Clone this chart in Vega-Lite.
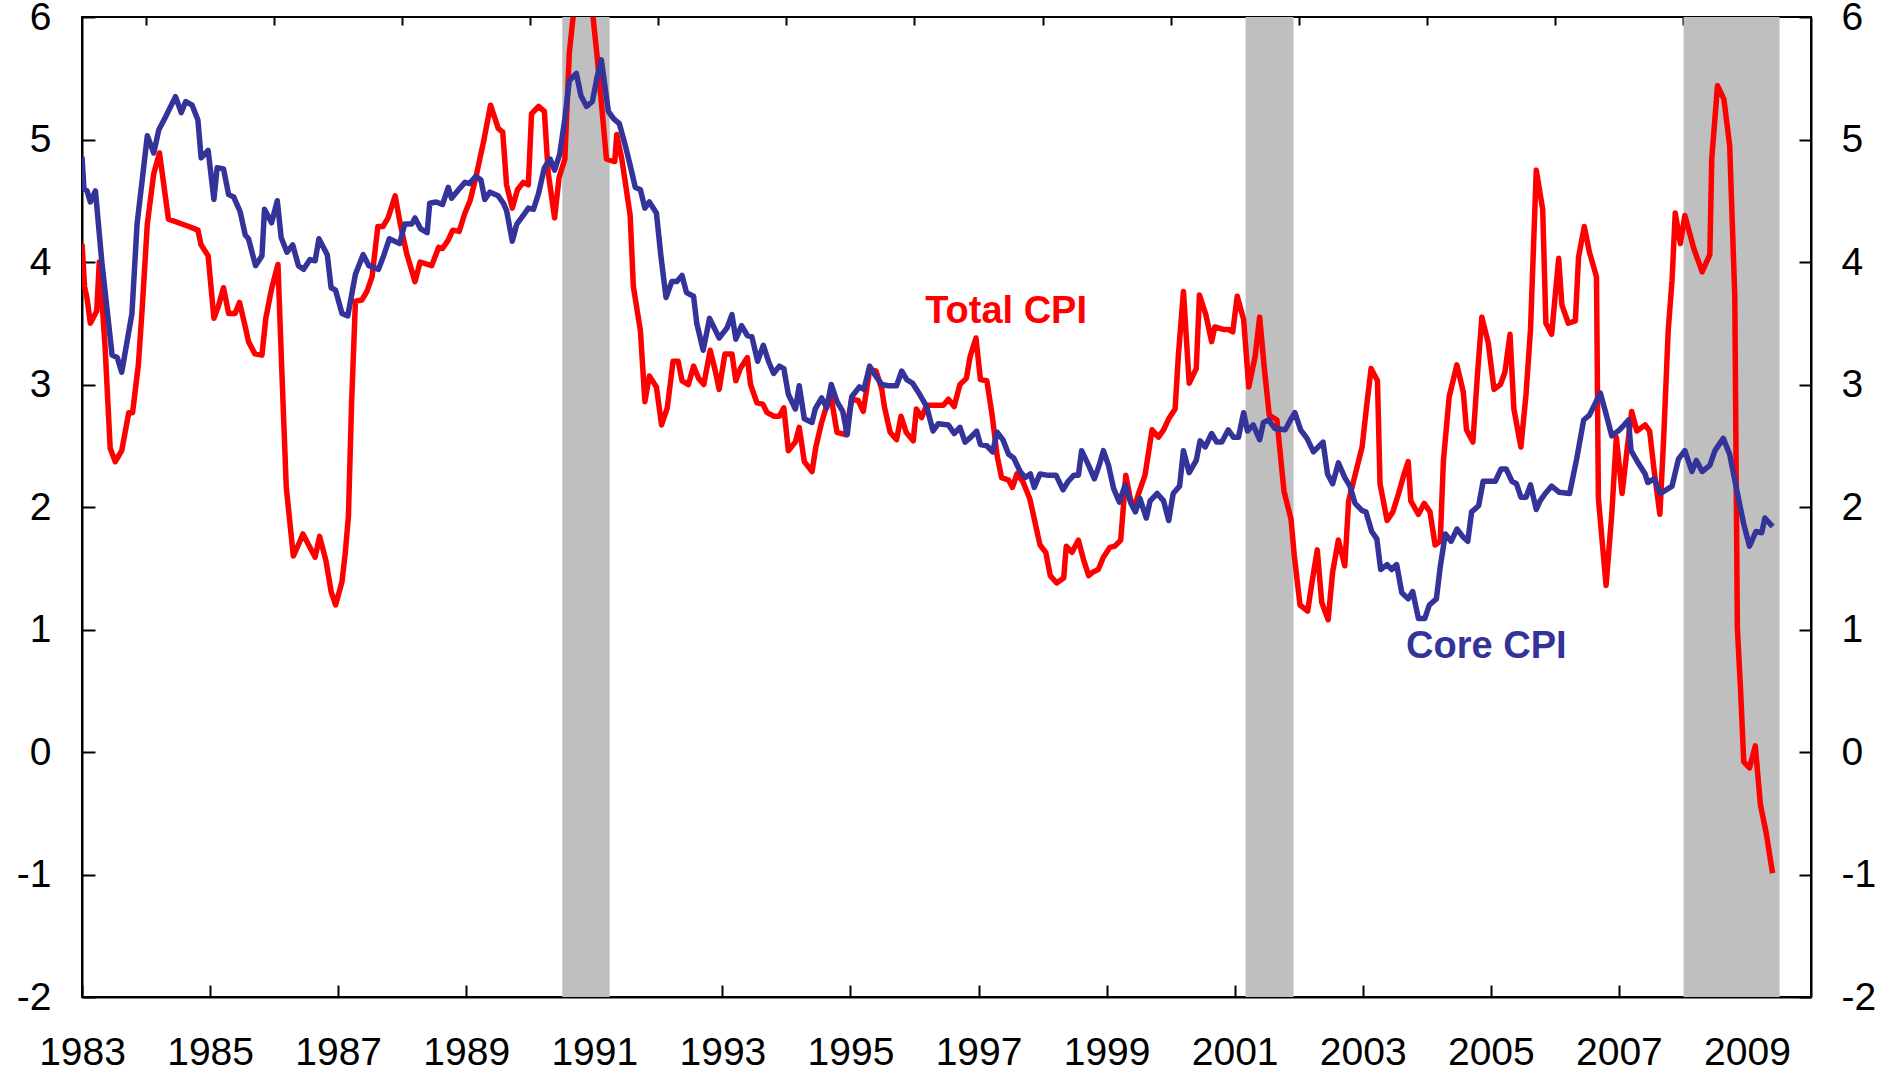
{
  "$schema": "https://vega.github.io/schema/vega-lite/v6.json",
  "width": 1729,
  "height": 980,
  "autosize": {"type": "none"},
  "padding": {"left": 82, "top": 17, "right": 74, "bottom": 76},
  "background": "white",
  "config": {
    "font": "Liberation Sans",
    "view": {"stroke": "black", "strokeWidth": 2},
    "axis": {"grid": false, "title": null, "labelFont": "Liberation Sans", "labelFontSize": 39, "labelColor": "black", "domainColor": "black", "domainWidth": 2, "tickColor": "black", "tickWidth": 2, "labelFlush": false, "labelOverlap": false}
  },
  "datasets": {
    "recessions": [
      {"start": 1990.5, "end": 1991.24},
      {"start": 2001.17, "end": 2001.92},
      {"start": 2008.01, "end": 2009.51}
    ],
    "total": [
      {"t":1983.00,"v":4.15},{"t":1983.04,"v":3.80},{"t":1983.08,"v":3.70},{"t":1983.13,"v":3.50},{"t":1983.23,"v":3.60},{"t":1983.27,"v":4.00},{"t":1983.36,"v":3.31},{"t":1983.44,"v":2.48},{"t":1983.52,"v":2.37},{"t":1983.62,"v":2.46},{"t":1983.73,"v":2.77},{"t":1983.79,"v":2.77},{"t":1983.88,"v":3.16},{"t":1983.94,"v":3.62},
      {"t":1984.02,"v":4.31},{"t":1984.12,"v":4.72},{"t":1984.21,"v":4.89},{"t":1984.35,"v":4.35},{"t":1984.56,"v":4.31},{"t":1984.67,"v":4.29},{"t":1984.81,"v":4.26},{"t":1984.86,"v":4.14},{"t":1984.97,"v":4.05},
      {"t":1985.06,"v":3.54},{"t":1985.13,"v":3.64},{"t":1985.21,"v":3.79},{"t":1985.29,"v":3.58},{"t":1985.39,"v":3.58},{"t":1985.46,"v":3.67},{"t":1985.55,"v":3.47},{"t":1985.60,"v":3.35},{"t":1985.70,"v":3.25},{"t":1985.81,"v":3.24},{"t":1985.87,"v":3.54},{"t":1985.96,"v":3.78},
      {"t":1986.06,"v":3.98},{"t":1986.12,"v":3.12},{"t":1986.19,"v":2.16},{"t":1986.30,"v":1.60},{"t":1986.37,"v":1.68},{"t":1986.45,"v":1.78},{"t":1986.54,"v":1.69},{"t":1986.64,"v":1.59},{"t":1986.71,"v":1.76},{"t":1986.81,"v":1.56},{"t":1986.89,"v":1.31},{"t":1986.96,"v":1.20},
      {"t":1987.06,"v":1.39},{"t":1987.11,"v":1.62},{"t":1987.16,"v":1.92},{"t":1987.21,"v":2.85},{"t":1987.27,"v":3.68},{"t":1987.37,"v":3.69},{"t":1987.45,"v":3.76},{"t":1987.53,"v":3.88},{"t":1987.62,"v":4.29},{"t":1987.70,"v":4.29},{"t":1987.78,"v":4.36},{"t":1987.89,"v":4.54},{"t":1987.97,"v":4.31},
      {"t":1988.07,"v":4.07},{"t":1988.20,"v":3.84},{"t":1988.28,"v":4.00},{"t":1988.46,"v":3.97},{"t":1988.57,"v":4.12},{"t":1988.63,"v":4.11},{"t":1988.72,"v":4.18},{"t":1988.79,"v":4.26},{"t":1988.89,"v":4.25},{"t":1988.98,"v":4.40},
      {"t":1989.06,"v":4.50},{"t":1989.15,"v":4.69},{"t":1989.27,"v":4.98},{"t":1989.38,"v":5.28},{"t":1989.50,"v":5.09},{"t":1989.57,"v":5.06},{"t":1989.63,"v":4.63},{"t":1989.72,"v":4.44},{"t":1989.80,"v":4.59},{"t":1989.89,"v":4.65},{"t":1989.97,"v":4.63},
      {"t":1990.02,"v":5.21},{"t":1990.13,"v":5.27},{"t":1990.22,"v":5.23},{"t":1990.28,"v":4.73},{"t":1990.38,"v":4.36},{"t":1990.45,"v":4.69},{"t":1990.54,"v":4.84},{"t":1990.61,"v":5.71},{"t":1990.71,"v":6.2},{"t":1990.79,"v":6.3},{"t":1990.88,"v":6.3},{"t":1990.96,"v":6.1},
      {"t":1991.04,"v":5.7},{"t":1991.09,"v":5.42},{"t":1991.19,"v":4.84},{"t":1991.32,"v":4.82},{"t":1991.35,"v":5.04},{"t":1991.43,"v":4.84},{"t":1991.56,"v":4.38},{"t":1991.61,"v":3.80},{"t":1991.72,"v":3.44},{"t":1991.79,"v":2.86},{"t":1991.86,"v":3.07},{"t":1991.97,"v":2.98},
      {"t":1992.05,"v":2.67},{"t":1992.14,"v":2.81},{"t":1992.23,"v":3.19},{"t":1992.31,"v":3.19},{"t":1992.37,"v":3.03},{"t":1992.47,"v":3.00},{"t":1992.55,"v":3.15},{"t":1992.63,"v":3.05},{"t":1992.71,"v":3.00},{"t":1992.81,"v":3.28},{"t":1992.89,"v":3.11},{"t":1992.95,"v":2.96},
      {"t":1993.04,"v":3.25},{"t":1993.15,"v":3.25},{"t":1993.21,"v":3.03},{"t":1993.28,"v":3.13},{"t":1993.39,"v":3.22},{"t":1993.44,"v":3.00},{"t":1993.54,"v":2.85},{"t":1993.63,"v":2.84},{"t":1993.70,"v":2.77},{"t":1993.81,"v":2.74},{"t":1993.89,"v":2.74},{"t":1993.96,"v":2.81},
      {"t":1994.03,"v":2.46},{"t":1994.14,"v":2.53},{"t":1994.20,"v":2.65},{"t":1994.28,"v":2.37},{"t":1994.40,"v":2.29},{"t":1994.46,"v":2.49},{"t":1994.55,"v":2.69},{"t":1994.63,"v":2.83},{"t":1994.69,"v":2.92},{"t":1994.79,"v":2.61},{"t":1994.92,"v":2.59},
      {"t":1995.02,"v":2.88},{"t":1995.12,"v":2.87},{"t":1995.20,"v":2.78},{"t":1995.30,"v":3.12},{"t":1995.40,"v":3.11},{"t":1995.49,"v":2.96},{"t":1995.53,"v":2.82},{"t":1995.62,"v":2.61},{"t":1995.72,"v":2.55},{"t":1995.79,"v":2.74},{"t":1995.87,"v":2.61},{"t":1995.98,"v":2.54},
      {"t":1996.03,"v":2.80},{"t":1996.11,"v":2.73},{"t":1996.19,"v":2.83},{"t":1996.30,"v":2.83},{"t":1996.45,"v":2.83},{"t":1996.53,"v":2.88},{"t":1996.62,"v":2.82},{"t":1996.71,"v":3.00},{"t":1996.81,"v":3.05},{"t":1996.87,"v":3.23},{"t":1996.96,"v":3.38},
      {"t":1997.03,"v":3.04},{"t":1997.13,"v":3.03},{"t":1997.21,"v":2.76},{"t":1997.29,"v":2.42},{"t":1997.36,"v":2.24},{"t":1997.47,"v":2.22},{"t":1997.53,"v":2.16},{"t":1997.60,"v":2.27},{"t":1997.69,"v":2.21},{"t":1997.80,"v":2.07},{"t":1997.88,"v":1.88},{"t":1997.96,"v":1.69},
      {"t":1998.05,"v":1.63},{"t":1998.12,"v":1.44},{"t":1998.22,"v":1.38},{"t":1998.33,"v":1.42},{"t":1998.37,"v":1.68},{"t":1998.46,"v":1.63},{"t":1998.56,"v":1.73},{"t":1998.64,"v":1.57},{"t":1998.72,"v":1.44},{"t":1998.79,"v":1.47},{"t":1998.87,"v":1.49},{"t":1998.95,"v":1.59},
      {"t":1999.05,"v":1.67},{"t":1999.13,"v":1.68},{"t":1999.22,"v":1.73},{"t":1999.26,"v":1.99},{"t":1999.30,"v":2.26},{"t":1999.37,"v":2.07},{"t":1999.43,"v":1.99},{"t":1999.50,"v":2.11},{"t":1999.60,"v":2.26},{"t":1999.71,"v":2.63},{"t":1999.81,"v":2.57},{"t":1999.89,"v":2.63},{"t":1999.97,"v":2.72},
      {"t":2000.07,"v":2.80},{"t":2000.12,"v":3.23},{"t":2000.20,"v":3.76},{"t":2000.29,"v":3.01},{"t":2000.40,"v":3.13},{"t":2000.45,"v":3.73},{"t":2000.55,"v":3.57},{"t":2000.64,"v":3.35},{"t":2000.69,"v":3.47},{"t":2000.82,"v":3.45},{"t":2000.90,"v":3.45},{"t":2000.97,"v":3.43},
      {"t":2001.04,"v":3.72},{"t":2001.14,"v":3.53},{"t":2001.22,"v":2.98},{"t":2001.32,"v":3.23},{"t":2001.39,"v":3.55},{"t":2001.46,"v":3.15},{"t":2001.54,"v":2.75},{"t":2001.66,"v":2.71},{"t":2001.77,"v":2.13},{"t":2001.88,"v":1.90},{"t":2001.93,"v":1.61},
      {"t":2002.02,"v":1.20},{"t":2002.14,"v":1.15},{"t":2002.20,"v":1.36},{"t":2002.29,"v":1.65},{"t":2002.36,"v":1.22},{"t":2002.46,"v":1.08},{"t":2002.53,"v":1.47},{"t":2002.62,"v":1.73},{"t":2002.72,"v":1.52},{"t":2002.78,"v":2.05},{"t":2002.88,"v":2.26},{"t":2002.99,"v":2.49},
      {"t":2003.06,"v":2.82},{"t":2003.13,"v":3.13},{"t":2003.23,"v":3.03},{"t":2003.27,"v":2.19},{"t":2003.38,"v":1.89},{"t":2003.47,"v":1.96},{"t":2003.56,"v":2.11},{"t":2003.64,"v":2.26},{"t":2003.71,"v":2.37},{"t":2003.75,"v":2.05},{"t":2003.87,"v":1.94},{"t":2003.96,"v":2.03},
      {"t":2004.05,"v":1.96},{"t":2004.13,"v":1.69},{"t":2004.21,"v":1.72},{"t":2004.26,"v":2.38},{"t":2004.35,"v":2.90},{"t":2004.47,"v":3.16},{"t":2004.57,"v":2.94},{"t":2004.62,"v":2.63},{"t":2004.72,"v":2.53},{"t":2004.79,"v":3.07},{"t":2004.86,"v":3.55},{"t":2004.96,"v":3.34},
      {"t":2005.05,"v":2.96},{"t":2005.15,"v":3.00},{"t":2005.22,"v":3.10},{"t":2005.30,"v":3.41},{"t":2005.36,"v":2.80},{"t":2005.47,"v":2.49},{"t":2005.55,"v":2.92},{"t":2005.62,"v":3.45},{"t":2005.71,"v":4.75},{"t":2005.81,"v":4.43},{"t":2005.86,"v":3.50},{"t":2005.95,"v":3.41},
      {"t":2006.06,"v":4.03},{"t":2006.11,"v":3.65},{"t":2006.21,"v":3.50},{"t":2006.32,"v":3.52},{"t":2006.37,"v":4.04},{"t":2006.46,"v":4.29},{"t":2006.54,"v":4.08},{"t":2006.65,"v":3.88},{"t":2006.68,"v":2.07},{"t":2006.80,"v":1.36},{"t":2006.89,"v":1.95},{"t":2006.96,"v":2.57},
      {"t":2007.05,"v":2.11},{"t":2007.13,"v":2.48},{"t":2007.20,"v":2.78},{"t":2007.28,"v":2.62},{"t":2007.41,"v":2.67},{"t":2007.48,"v":2.62},{"t":2007.55,"v":2.30},{"t":2007.64,"v":1.94},{"t":2007.70,"v":2.57},{"t":2007.77,"v":3.44},{"t":2007.83,"v":3.85},{"t":2007.88,"v":4.40},{"t":2007.96,"v":4.15},
      {"t":2008.03,"v":4.38},{"t":2008.17,"v":4.11},{"t":2008.30,"v":3.92},{"t":2008.42,"v":4.06},{"t":2008.45,"v":4.84},{"t":2008.54,"v":5.44},{"t":2008.64,"v":5.33},{"t":2008.73,"v":4.95},{"t":2008.81,"v":3.72},{"t":2008.85,"v":1.01},{"t":2008.90,"v":0.51},{"t":2008.95,"v":-0.08},
      {"t":2009.04,"v":-0.13},{"t":2009.13,"v":0.05},{"t":2009.21,"v":-0.43},{"t":2009.30,"v":-0.66},{"t":2009.40,"v":-0.99}
    ],
    "core": [
      {"t":1983.00,"v":4.86},{"t":1983.03,"v":4.60},{"t":1983.08,"v":4.58},{"t":1983.13,"v":4.49},{"t":1983.21,"v":4.58},{"t":1983.31,"v":4.00},{"t":1983.47,"v":3.24},{"t":1983.55,"v":3.22},{"t":1983.62,"v":3.10},{"t":1983.78,"v":3.58},{"t":1983.86,"v":4.31},
      {"t":1984.02,"v":5.03},{"t":1984.12,"v":4.89},{"t":1984.20,"v":5.08},{"t":1984.30,"v":5.18},{"t":1984.46,"v":5.35},{"t":1984.55,"v":5.22},{"t":1984.62,"v":5.31},{"t":1984.72,"v":5.28},{"t":1984.81,"v":5.16},{"t":1984.86,"v":4.85},{"t":1984.97,"v":4.91},
      {"t":1985.06,"v":4.51},{"t":1985.11,"v":4.77},{"t":1985.21,"v":4.76},{"t":1985.29,"v":4.55},{"t":1985.37,"v":4.53},{"t":1985.47,"v":4.41},{"t":1985.55,"v":4.22},{"t":1985.60,"v":4.19},{"t":1985.71,"v":3.97},{"t":1985.81,"v":4.05},{"t":1985.85,"v":4.43},{"t":1985.96,"v":4.32},
      {"t":1986.05,"v":4.50},{"t":1986.11,"v":4.20},{"t":1986.20,"v":4.08},{"t":1986.29,"v":4.14},{"t":1986.38,"v":3.97},{"t":1986.46,"v":3.94},{"t":1986.56,"v":4.02},{"t":1986.64,"v":4.01},{"t":1986.70,"v":4.19},{"t":1986.83,"v":4.06},{"t":1986.89,"v":3.79},{"t":1986.96,"v":3.77},
      {"t":1987.06,"v":3.58},{"t":1987.15,"v":3.56},{"t":1987.27,"v":3.90},{"t":1987.39,"v":4.06},{"t":1987.48,"v":3.97},{"t":1987.63,"v":3.94},{"t":1987.71,"v":4.05},{"t":1987.80,"v":4.19},{"t":1987.96,"v":4.15},
      {"t":1988.04,"v":4.31},{"t":1988.15,"v":4.31},{"t":1988.20,"v":4.36},{"t":1988.29,"v":4.27},{"t":1988.39,"v":4.24},{"t":1988.43,"v":4.48},{"t":1988.53,"v":4.49},{"t":1988.63,"v":4.47},{"t":1988.72,"v":4.61},{"t":1988.77,"v":4.52},{"t":1988.88,"v":4.59},{"t":1988.98,"v":4.65},
      {"t":1989.05,"v":4.64},{"t":1989.15,"v":4.70},{"t":1989.23,"v":4.67},{"t":1989.29,"v":4.51},{"t":1989.37,"v":4.57},{"t":1989.50,"v":4.54},{"t":1989.58,"v":4.48},{"t":1989.63,"v":4.42},{"t":1989.72,"v":4.17},{"t":1989.79,"v":4.31},{"t":1989.89,"v":4.38},{"t":1989.97,"v":4.44},
      {"t":1990.05,"v":4.43},{"t":1990.13,"v":4.56},{"t":1990.22,"v":4.77},{"t":1990.31,"v":4.84},{"t":1990.38,"v":4.75},{"t":1990.46,"v":4.88},{"t":1990.54,"v":5.17},{"t":1990.61,"v":5.48},{"t":1990.72,"v":5.54},{"t":1990.79,"v":5.36},{"t":1990.88,"v":5.27},{"t":1990.97,"v":5.31},
      {"t":1991.04,"v":5.50},{"t":1991.11,"v":5.65},{"t":1991.17,"v":5.42},{"t":1991.22,"v":5.23},{"t":1991.30,"v":5.17},{"t":1991.39,"v":5.13},{"t":1991.48,"v":4.96},{"t":1991.56,"v":4.79},{"t":1991.64,"v":4.61},{"t":1991.72,"v":4.59},{"t":1991.79,"v":4.44},{"t":1991.86,"v":4.49},{"t":1991.97,"v":4.40},
      {"t":1992.04,"v":4.05},{"t":1992.12,"v":3.71},{"t":1992.21,"v":3.84},{"t":1992.29,"v":3.84},{"t":1992.37,"v":3.89},{"t":1992.44,"v":3.75},{"t":1992.55,"v":3.72},{"t":1992.60,"v":3.50},{"t":1992.70,"v":3.28},{"t":1992.80,"v":3.54},{"t":1992.95,"v":3.38},
      {"t":1993.07,"v":3.46},{"t":1993.15,"v":3.57},{"t":1993.21,"v":3.37},{"t":1993.30,"v":3.48},{"t":1993.39,"v":3.40},{"t":1993.46,"v":3.39},{"t":1993.55,"v":3.19},{"t":1993.64,"v":3.32},{"t":1993.72,"v":3.19},{"t":1993.80,"v":3.09},{"t":1993.89,"v":3.15},{"t":1993.96,"v":3.13},
      {"t":1994.03,"v":2.92},{"t":1994.14,"v":2.80},{"t":1994.20,"v":2.99},{"t":1994.28,"v":2.72},{"t":1994.40,"v":2.69},{"t":1994.45,"v":2.80},{"t":1994.55,"v":2.89},{"t":1994.63,"v":2.81},{"t":1994.70,"v":3.00},{"t":1994.79,"v":2.86},{"t":1994.88,"v":2.78},{"t":1994.95,"v":2.59},
      {"t":1995.02,"v":2.90},{"t":1995.14,"v":2.98},{"t":1995.21,"v":2.96},{"t":1995.30,"v":3.15},{"t":1995.38,"v":3.08},{"t":1995.49,"v":3.00},{"t":1995.59,"v":2.99},{"t":1995.72,"v":2.99},{"t":1995.80,"v":3.11},{"t":1995.88,"v":3.04},{"t":1995.97,"v":3.01},
      {"t":1996.08,"v":2.92},{"t":1996.19,"v":2.82},{"t":1996.29,"v":2.62},{"t":1996.37,"v":2.68},{"t":1996.53,"v":2.67},{"t":1996.62,"v":2.60},{"t":1996.71,"v":2.65},{"t":1996.79,"v":2.53},{"t":1996.88,"v":2.57},{"t":1996.97,"v":2.62},
      {"t":1997.03,"v":2.51},{"t":1997.13,"v":2.50},{"t":1997.22,"v":2.45},{"t":1997.29,"v":2.61},{"t":1997.38,"v":2.55},{"t":1997.47,"v":2.43},{"t":1997.55,"v":2.40},{"t":1997.65,"v":2.29},{"t":1997.73,"v":2.24},{"t":1997.81,"v":2.27},{"t":1997.87,"v":2.16},{"t":1997.96,"v":2.27},
      {"t":1998.07,"v":2.26},{"t":1998.21,"v":2.26},{"t":1998.32,"v":2.14},{"t":1998.40,"v":2.21},{"t":1998.49,"v":2.26},{"t":1998.56,"v":2.26},{"t":1998.61,"v":2.46},{"t":1998.72,"v":2.34},{"t":1998.81,"v":2.23},{"t":1998.89,"v":2.35},{"t":1998.95,"v":2.46},
      {"t":1999.03,"v":2.34},{"t":1999.11,"v":2.15},{"t":1999.20,"v":2.04},{"t":1999.29,"v":2.18},{"t":1999.38,"v":2.03},{"t":1999.45,"v":1.96},{"t":1999.52,"v":2.07},{"t":1999.62,"v":1.91},{"t":1999.68,"v":2.05},{"t":1999.79,"v":2.11},{"t":1999.89,"v":2.05},{"t":1999.97,"v":1.89},
      {"t":2000.04,"v":2.11},{"t":2000.14,"v":2.17},{"t":2000.20,"v":2.46},{"t":2000.29,"v":2.28},{"t":2000.40,"v":2.38},{"t":2000.46,"v":2.54},{"t":2000.54,"v":2.49},{"t":2000.64,"v":2.60},{"t":2000.72,"v":2.53},{"t":2000.80,"v":2.53},{"t":2000.90,"v":2.63},{"t":2000.98,"v":2.57},
      {"t":2001.06,"v":2.57},{"t":2001.14,"v":2.77},{"t":2001.20,"v":2.62},{"t":2001.29,"v":2.67},{"t":2001.39,"v":2.55},{"t":2001.45,"v":2.69},{"t":2001.53,"v":2.71},{"t":2001.63,"v":2.64},{"t":2001.79,"v":2.63},{"t":2001.87,"v":2.71},{"t":2001.94,"v":2.77},
      {"t":2002.03,"v":2.63},{"t":2002.13,"v":2.56},{"t":2002.23,"v":2.45},{"t":2002.38,"v":2.53},{"t":2002.45,"v":2.27},{"t":2002.53,"v":2.19},{"t":2002.62,"v":2.36},{"t":2002.72,"v":2.24},{"t":2002.80,"v":2.17},{"t":2002.88,"v":2.03},{"t":2002.99,"v":1.97},
      {"t":2003.05,"v":1.96},{"t":2003.14,"v":1.80},{"t":2003.22,"v":1.74},{"t":2003.28,"v":1.49},{"t":2003.38,"v":1.53},{"t":2003.45,"v":1.49},{"t":2003.53,"v":1.53},{"t":2003.61,"v":1.30},{"t":2003.71,"v":1.25},{"t":2003.78,"v":1.31},{"t":2003.87,"v":1.09},{"t":2003.97,"v":1.09},
      {"t":2004.04,"v":1.20},{"t":2004.15,"v":1.25},{"t":2004.21,"v":1.51},{"t":2004.29,"v":1.78},{"t":2004.38,"v":1.72},{"t":2004.47,"v":1.82},{"t":2004.56,"v":1.76},{"t":2004.64,"v":1.72},{"t":2004.70,"v":1.96},{"t":2004.81,"v":2.01},{"t":2004.88,"v":2.21},{"t":2004.99,"v":2.21},
      {"t":2005.07,"v":2.21},{"t":2005.16,"v":2.31},{"t":2005.24,"v":2.31},{"t":2005.33,"v":2.21},{"t":2005.40,"v":2.19},{"t":2005.47,"v":2.08},{"t":2005.55,"v":2.08},{"t":2005.62,"v":2.18},{"t":2005.71,"v":1.98},{"t":2005.77,"v":2.05},{"t":2005.85,"v":2.11},{"t":2005.95,"v":2.17},
      {"t":2006.07,"v":2.12},{"t":2006.23,"v":2.11},{"t":2006.34,"v":2.39},{"t":2006.45,"v":2.71},{"t":2006.54,"v":2.75},{"t":2006.71,"v":2.93},{"t":2006.80,"v":2.76},{"t":2006.89,"v":2.58},
      {"t":2007.01,"v":2.63},{"t":2007.15,"v":2.71},{"t":2007.19,"v":2.46},{"t":2007.29,"v":2.37},{"t":2007.41,"v":2.27},{"t":2007.45,"v":2.20},{"t":2007.55,"v":2.23},{"t":2007.65,"v":2.11},{"t":2007.83,"v":2.17},{"t":2007.93,"v":2.39},
      {"t":2008.03,"v":2.46},{"t":2008.14,"v":2.29},{"t":2008.21,"v":2.38},{"t":2008.30,"v":2.29},{"t":2008.42,"v":2.34},{"t":2008.50,"v":2.46},{"t":2008.63,"v":2.56},{"t":2008.73,"v":2.43},{"t":2008.84,"v":2.14},{"t":2008.95,"v":1.86},
      {"t":2009.04,"v":1.68},{"t":2009.14,"v":1.80},{"t":2009.23,"v":1.79},{"t":2009.28,"v":1.91},{"t":2009.40,"v":1.84}
    ],
    "labels": [
      {"label": "Total CPI", "t": 1997.43, "v": 3.59},
      {"label": "Core CPI", "t": 2004.93, "v": 0.86}
    ]
  },
  "resolve": {"axis": {"x": "independent", "y": "independent"}},
  "layer": [
    {
      "data": {"name": "recessions"},
      "mark": {"type": "rect", "color": "#BFBFBF"},
      "encoding": {
        "x": {"field": "start", "type": "quantitative",
              "scale": {"domain": [1983, 2010], "nice": false, "zero": false},
              "axis": {"values": [1983,1985,1987,1989,1991,1993,1995,1997,1999,2001,2003,2005,2007,2009], "format": "d", "tickSize": -12, "labelPadding": 48}},
        "x2": {"field": "end"}
      }
    },
    {
      "mark": {"type": "rule", "color": "black", "strokeWidth": 1},
      "encoding": {
        "y": {"datum": 0, "type": "quantitative", "scale": {"domain": [-2, 6], "nice": false, "zero": false}, "axis": null}
      }
    },
    {
      "data": {"name": "total"},
      "mark": {"type": "line", "color": "#FF0000", "strokeWidth": 5.5, "strokeJoin": "round", "clip": true},
      "encoding": {
        "x": {"field": "t", "type": "quantitative",
              "scale": {"domain": [1983, 2010], "nice": false, "zero": false},
              "axis": {"values": [1984,1986,1988,1990,1992,1994,1996,1998,2000,2002,2004,2006,2008], "labels": false, "tickSize": -8, "domain": false}},
        "y": {"field": "v", "type": "quantitative",
              "scale": {"domain": [-2, 6], "nice": false, "zero": false},
              "axis": {"orient": "left", "values": [-2,-1,0,1,2,3,4,5,6], "tickSize": -13, "labelPadding": 44, "labelExpr": "replace(datum.label, '\u2212', '-')"}}
      }
    },
    {
      "data": {"name": "core"},
      "mark": {"type": "line", "color": "#333399", "strokeWidth": 5.5, "strokeJoin": "round", "clip": true},
      "encoding": {
        "x": {"field": "t", "type": "quantitative", "scale": {"domain": [1983, 2010], "nice": false, "zero": false}, "axis": null},
        "y": {"field": "v", "type": "quantitative",
              "scale": {"domain": [-2, 6], "nice": false, "zero": false},
              "axis": {"orient": "right", "values": [-2,-1,0,1,2,3,4,5,6], "tickSize": -12, "labelPadding": 42, "labelExpr": "replace(datum.label, '\u2212', '-')"}}
      }
    },
    {
      "data": {"name": "labels"},
      "transform": [{"filter": "datum.label == 'Total CPI'"}],
      "mark": {"type": "text", "color": "#FF0000", "fontSize": 38, "fontWeight": "bold", "align": "center", "baseline": "middle"},
      "encoding": {
        "x": {"field": "t", "type": "quantitative", "scale": {"domain": [1983, 2010], "nice": false, "zero": false}, "axis": null},
        "y": {"field": "v", "type": "quantitative", "scale": {"domain": [-2, 6], "nice": false, "zero": false}, "axis": null},
        "text": {"field": "label"}
      }
    },
    {
      "data": {"name": "labels"},
      "transform": [{"filter": "datum.label == 'Core CPI'"}],
      "mark": {"type": "text", "color": "#333399", "fontSize": 38, "fontWeight": "bold", "align": "center", "baseline": "middle"},
      "encoding": {
        "x": {"field": "t", "type": "quantitative", "scale": {"domain": [1983, 2010], "nice": false, "zero": false}, "axis": null},
        "y": {"field": "v", "type": "quantitative", "scale": {"domain": [-2, 6], "nice": false, "zero": false}, "axis": null},
        "text": {"field": "label"}
      }
    }
  ]
}
